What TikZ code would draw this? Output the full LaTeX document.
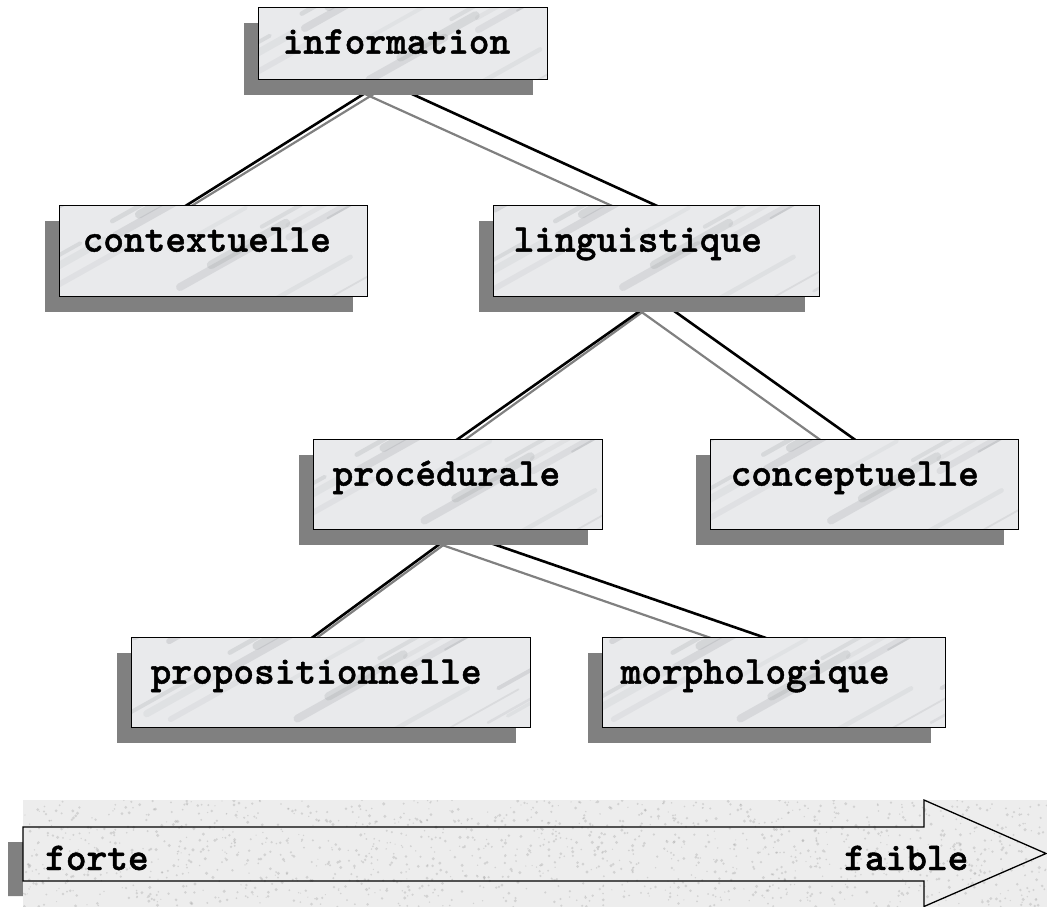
\documentclass[tikz,border=0pt]{standalone}
\usepackage{fontspec}
\usetikzlibrary{calc,shadows}
\newfontfamily\labmono{lmmonolt10-bold}[Extension=.otf, FakeBold=1.2]
\definecolor{shadowgray}{HTML}{808080}
\definecolor{marblebase}{HTML}{E9EAEC}
\definecolor{veingray}{HTML}{8C8F94}
\definecolor{granite}{HTML}{EDEDED}
\definecolor{speck}{HTML}{9A9A9A}
\pgfdeclarelayer{background}
\pgfsetlayers{background,main}
\tikzset{
  labfont/.style={font=\labmono\fontsize{39.4}{44}\selectfont},
  marble/.style={path picture={
    \pgfmathsetseed{7}
    \foreach \k in {1,...,22}{
      \pgfmathsetmacro\dx{420*rnd-210}
      \pgfmathsetmacro\dy{110*rnd-55}
      \pgfmathsetmacro\lw{1.5+7*rnd}
      \pgfmathsetmacro\op{0.07+0.16*rnd}
      \draw[line width=\lw pt, draw=veingray, opacity=\op, line cap=round]
        ([shift={(\dx pt,\dy pt)}]path picture bounding box.center) -- ++(75pt,42pt);
    }
  }},
  orgbox/.style={rectangle, draw=black, line width=1.3pt, fill=marblebase, marble,
    anchor=north west, inner ysep=0pt, text height=46pt, align=left, labfont,
    drop shadow={shadow xshift=-15pt, shadow yshift=-15pt, fill=shadowgray, opacity=1}},
  dims/.style n args={4}{text width=#1pt-2*#3pt, inner xsep=#3pt, text depth=#2pt-46pt},
  link/.style={draw=black, line width=2.6pt, shorten <=-6pt, shorten >=-3pt},
  linkshade/.style={draw=shadowgray, line width=2.2pt, shorten <=-6pt, shorten >=-3pt},
  bandtext/.style={labfont, inner sep=0pt, anchor=base west}
}
\begin{document}
\begin{tikzpicture}[x=1pt,y=-1pt]
\useasboundingbox (0,0) rectangle (1047,907);

% hierarchy boxes
\node[orgbox, dims={289}{72}{24}{}]  (info)  at (258,7)   {information};
\node[orgbox, dims={308}{91}{23}{}]  (ctx)   at (59,205)  {contextuelle};
\node[orgbox, dims={326}{91}{20}{}]  (ling)  at (493,205) {linguistique};
\node[orgbox, dims={289}{90}{19}{}]  (proc)  at (313,439) {procédurale};
\node[orgbox, dims={308}{90}{20}{}]  (conc)  at (710,439) {conceptuelle};
\node[orgbox, dims={399}{90}{19}{}]  (prop)  at (131,637) {propositionnelle};
\node[orgbox, dims={343}{90}{18}{}]  (morph) at (602,637) {morphologique};

% connectors, kept behind the boxes and their shadows
\begin{pgfonlayer}{background}
  \draw[linkshade] ($(info.south west)+(112,16)$) -- ($(ctx.north west)+(134,0)$);
  \draw[link]      ($(info.south west)+(102,16)$) -- ($(ctx.north west)+(128,0)$);
  \draw[linkshade] ($(info.south west)+(112,16)$) -- ($(ling.north west)+(117,0)$);
  \draw[link]      ($(info.south west)+(159,16)$) -- ($(ling.north west)+(162,0)$);

  \draw[linkshade] ($(ling.south west)+(149,15)$) -- ($(proc.north west)+(153,0)$);
  \draw[link]      ($(ling.south west)+(145,15)$) -- ($(proc.north west)+(145,0)$);
  \draw[linkshade] ($(ling.south west)+(149,15)$) -- ($(conc.north west)+(109,0)$);
  \draw[link]      ($(ling.south west)+(183,15)$) -- ($(conc.north west)+(144,0)$);

  \draw[linkshade] ($(proc.south west)+(130,15)$) -- ($(prop.north west)+(187,0)$);
  \draw[link]      ($(proc.south west)+(125,15)$) -- ($(prop.north west)+(182,0)$);
  \draw[linkshade] ($(proc.south west)+(130,15)$) -- ($(morph.north west)+(106,0)$);
  \draw[link]      ($(proc.south west)+(184,15)$) -- ($(morph.north west)+(161,0)$);
\end{pgfonlayer}

% scale arrow: shadow, granite band, outline
\fill[shadowgray] (8,842) -- (909,842) -- (909,815) -- (1032,868.5) -- (909,922)
  -- (909,896) -- (8,896) -- cycle;
\fill[granite] (23,800) rectangle (1047,907);
\begin{scope}
  \clip (23,800) rectangle (1047,907);
  \pgfmathsetseed{11}
  \foreach \k in {1,...,1500}{
    \pgfmathsetmacro\sx{23+1024*rnd}
    \pgfmathsetmacro\sy{800+107*rnd}
    \pgfmathsetmacro\sr{0.6+1.1*rnd}
    \fill[speck, opacity=0.32] (\sx,\sy) circle (\sr pt);
  }
\end{scope}
\draw[black, line width=1.3pt, line join=miter]
  (23,827) -- (924,827) -- (924,800) -- (1046,853.5) -- (924,906.5)
  -- (924,881) -- (23,881) -- cycle;
\node[bandtext] (forte)  at (45,870)  {forte};
\node[bandtext] (faible) at (844,870) {faible};
\end{tikzpicture}
\end{document}
